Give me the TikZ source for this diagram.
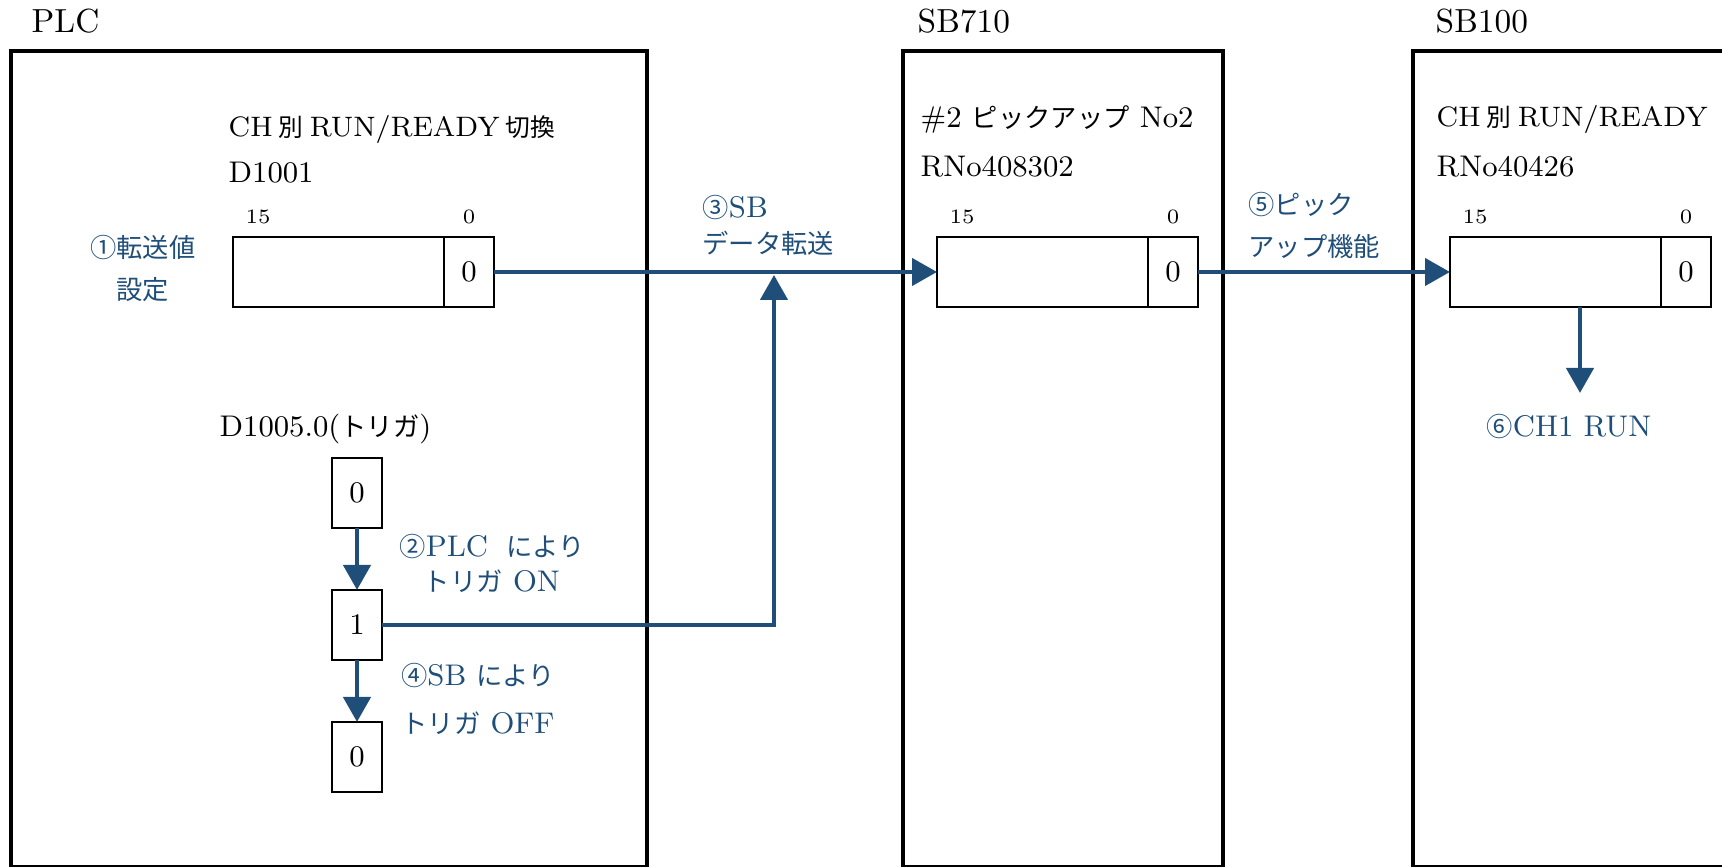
\documentclass[tikz,border=0pt]{standalone}
\usepackage{fontspec}
\usetikzlibrary{arrows.meta,calc,positioning}
\newfontfamily\jpfont{Noto Sans CJK JP}[Scale=0.88]
\newcommand{\ja}[1]{{\jpfont #1}}
\newcommand{\jsp}{\hspace{0.22em}}
\definecolor{ink}{HTML}{000000}
\definecolor{stepblue}{HTML}{1F4E79}

\begin{document}
\begin{tikzpicture}[
  unitframe/.style={draw=ink,line width=1.4pt},
  unittitle/.style={font=\fontsize{9.5}{11}\selectfont,text=ink,anchor=base west,
                    inner sep=0pt},
  plain/.style={font=\fontsize{8.5}{12}\selectfont,text=ink,anchor=base west,
                inner sep=0pt},
  nameline/.style={plain,font=\fontsize{8.0}{12}\selectfont},
  regbody/.style={draw=ink,line width=0.6pt,minimum width=2.11cm,
                  minimum height=0.70cm,inner sep=0pt,outer sep=0pt},
  bitcell/.style={draw=ink,line width=0.6pt,minimum width=0.50cm,
                  minimum height=0.70cm,inner sep=0pt,outer sep=0pt,
                  font=\fontsize{8.5}{10}\selectfont},
  bitno/.style={font=\fontsize{5.8}{7}\selectfont,inner sep=0pt},
  flow/.style={-{Triangle[length=2.5mm,width=2.7mm]},line width=1.25pt,draw=stepblue},
  steplabel/.style={font=\fontsize{8.5}{12}\selectfont,text=stepblue,inner sep=0pt,
                    anchor=base}
]
\useasboundingbox (0,0) rectangle (17.22,8.67);
\clip (0,0) rectangle (17.22,8.67);

% Unit frames (cut by the page at the bottom and right).
\draw[unitframe] (0.11,-0.005) rectangle (6.47,8.16);
\draw[unitframe] (9.03,-0.005) rectangle (12.23,8.16);
\draw[unitframe] (14.13,-0.005) rectangle (17.50,8.16);

\node[unittitle] (plctitle) at (0.31,8.34) {PLC};
\node[unittitle] (sbtitle) at (9.17,8.34) {SB710};
\node[unittitle] (hosttitle) at (14.35,8.34) {SB100};

% -------------------------------------------------------------------------
% PLC: transfer register and trigger bit.
\node[nameline] (plcname) at (2.28,7.30)
  {CH\jsp\ja{別}\jsp RUN/READY\jsp\ja{切換}};
\node[plain] (plcaddr) at (2.28,6.84) {D1001};

\node[regbody] (regA) at (3.385,5.95) {};
\node[bitcell,right=0pt of regA] (cellA) {0};
\node[bitno,anchor=south west] at ($(regA.north west)+(0.12,0.12)$) {15};
\node[bitno,above=0.12cm of cellA] {0};

\node[steplabel,align=center] (step1) at (1.43,5.67) {\ja{①転送値}\\\ja{設定}};

\node[plain] (trigname) at (2.19,4.30) {D1005.0(\ja{トリガ})};
\node[bitcell] (trig0) at (3.57,3.74) {0};
\node[bitcell,below=0.62cm of trig0] (trig1) {1};
\node[bitcell,below=0.62cm of trig1] (trig2) {0};
\draw[flow] (trig0.south) -- (trig1.north);
\draw[flow] (trig1.south) -- (trig2.north);

\node[steplabel,align=center] (step2) at (4.92,2.75)
  {\ja{②}PLC\hspace{0.6em}\ja{により}\\[-1.8pt]\ja{トリガ} ON};
\node[steplabel,align=center] (step4) at (4.78,1.33)
  {\ja{④}SB \ja{により}\\[1.7pt]\ja{トリガ} OFF};

% -------------------------------------------------------------------------
% SB710: pickup register.
\node[plain] (sbname) at (9.20,7.39) {\#2 \ja{ピックアップ} No2};
\node[plain] (sbaddr) at (9.20,6.90) {RNo408302};

\node[regbody] (regB) at (10.425,5.95) {};
\node[bitcell,right=0pt of regB] (cellB) {0};
\node[bitno,anchor=south west] at ($(regB.north west)+(0.12,0.12)$) {15};
\node[bitno,above=0.12cm of cellB] {0};

\coordinate (merge) at (7.74,5.92);
\draw[flow] (cellA.east) -- (regB.west);
\draw[flow] (trig1.east) -| (merge);
\node[steplabel,anchor=base west,align=left] (step3) at (7.02,6.13)
  {\ja{③}SB\\[-1.5pt]\ja{データ転送}};

% -------------------------------------------------------------------------
% SB100: CH RUN/READY register.
\node[nameline] (hostname) at (14.36,7.40) {CH\jsp\ja{別}\jsp RUN/READY};
\node[plain] (hostaddr) at (14.36,6.90) {RNo40426};

\node[regbody] (regC) at (15.555,5.95) {};
\node[bitcell,right=0pt of regC] (cellC) {0};
\node[bitno,anchor=south west] at ($(regC.north west)+(0.12,0.12)$) {15};
\node[bitno,above=0.12cm of cellC] {0};

\draw[flow] (cellB.east) -- (regC.west);
\node[steplabel,anchor=base west,align=left] (step5) at (12.48,6.10)
  {\ja{⑤ピック}\\\ja{アップ機能}};

\coordinate (runtip) at (15.80,4.74);
\draw[flow] (regC.south -| runtip) -- (runtip);
\node[steplabel] (step6) at (15.69,4.30) {\ja{⑥}CH1 RUN};

\end{tikzpicture}
\end{document}
